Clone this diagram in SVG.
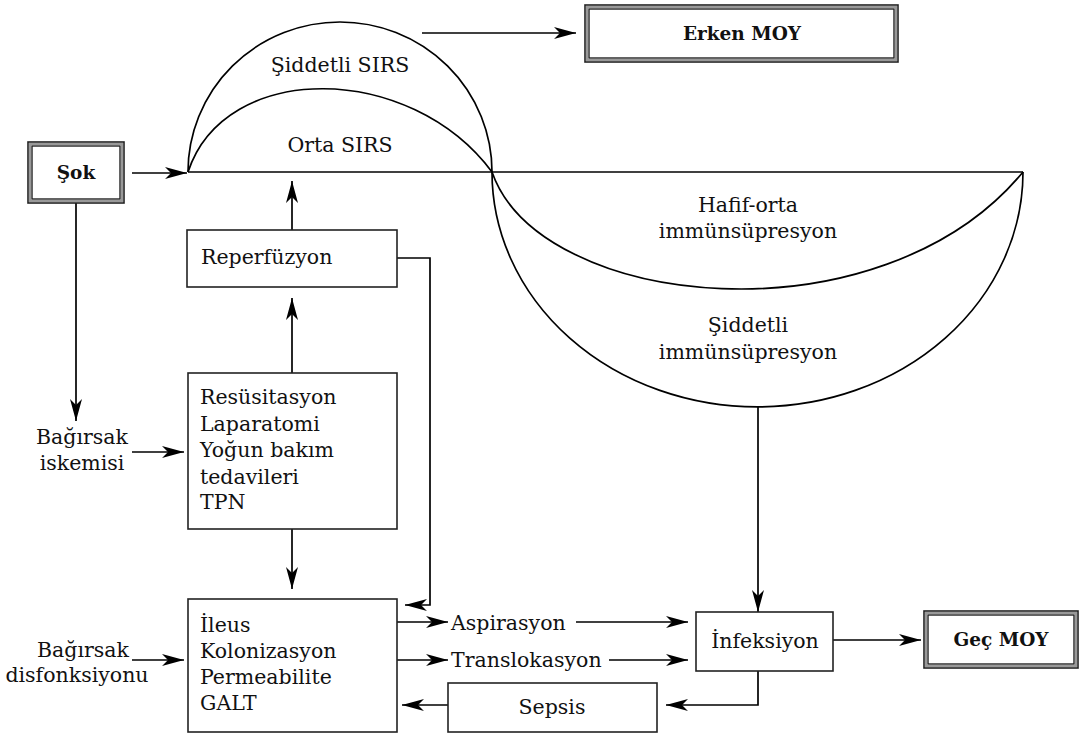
<svg xmlns="http://www.w3.org/2000/svg" width="1081" height="734" viewBox="0 0 1081 734">
<defs>
<marker id="ah" markerUnits="userSpaceOnUse" markerWidth="24" markerHeight="14" refX="22" refY="7" orient="auto">
<path d="M0,1 L22,7 L0,13 L6,7 Z" fill="#000"/>
</marker>
<style>
.t{font-family:"DejaVu Serif","Liberation Serif",serif;font-size:20.5px;fill:#111}
.b{font-family:"DejaVu Serif","Liberation Serif",serif;font-size:18.5px;font-weight:bold;fill:#111}
.box{fill:#fff;stroke:#222;stroke-width:1.6}
.o1{fill:#fff;stroke:#222;stroke-width:1.6}
.o2{fill:none;stroke:#999;stroke-width:2}
.o3{fill:none;stroke:#222;stroke-width:1.4}
.ln{fill:none;stroke:#000;stroke-width:1.7}
.ar{fill:none;stroke:#000;stroke-width:1.7;marker-end:url(#ah)}
</style>
</defs>
<rect width="1081" height="734" fill="#fff"/>

<g id="curves">
<line class="ln" x1="188" y1="172" x2="1023" y2="172"/>
<path class="ln" d="M188,172 A152,150 0 0 1 492,172 A265.5,235 0 0 0 1023,172"/>
<path class="ln" d="M188,172 C225,60 410,62 492,172 C540,310 880,345 1023,172"/>
<text class="t" x="340" y="72" text-anchor="middle">Şiddetli SIRS</text>
<text class="t" x="340" y="152" text-anchor="middle">Orta SIRS</text>
<text class="t" x="748" y="212" text-anchor="middle">Hafif-orta</text>
<text class="t" x="748" y="238" text-anchor="middle">immünsüpresyon</text>
<text class="t" x="748" y="332" text-anchor="middle">Şiddetli</text>
<text class="t" x="748" y="359" text-anchor="middle">immünsüpresyon</text>
</g>

<g id="connectors">
<line class="ar" x1="132" y1="173" x2="187" y2="173"/>
<line class="ar" x1="76" y1="203" x2="76" y2="421"/>
<line class="ar" x1="422" y1="33" x2="576" y2="33"/>
<line class="ar" x1="292" y1="230" x2="292" y2="181"/>
<line class="ar" x1="292" y1="373" x2="292" y2="298"/>
<line class="ar" x1="292" y1="529" x2="292" y2="589"/>
<line class="ar" x1="132" y1="452" x2="184" y2="452"/>
<line class="ar" x1="132" y1="660" x2="184" y2="660"/>
<polyline class="ar" points="397,258 430,258 430,605 405,605"/>
<line class="ar" x1="397" y1="622" x2="448" y2="622"/>
<line class="ar" x1="397" y1="660" x2="448" y2="660"/>
<line class="ar" x1="576" y1="622" x2="688" y2="622"/>
<line class="ar" x1="609" y1="660" x2="688" y2="660"/>
<line class="ar" x1="758" y1="407" x2="758" y2="612"/>
<line class="ar" x1="833" y1="640" x2="921" y2="640"/>
<polyline class="ar" points="758,671 758,705 666,705"/>
<line class="ar" x1="448" y1="705" x2="402" y2="705"/>
</g>

<g id="sok">
<rect class="o1" x="28" y="142" width="96" height="61"/>
<rect class="o2" x="30" y="144" width="92" height="57"/>
<rect class="o3" x="32" y="146" width="88" height="53"/>
<text class="b" x="76" y="179" text-anchor="middle">Şok</text>
</g>

<g id="erken-moy">
<rect class="o1" x="585" y="5" width="313" height="57"/>
<rect class="o2" x="587" y="7" width="309" height="53"/>
<rect class="o3" x="589" y="9" width="305" height="49"/>
<text class="b" x="742" y="40" text-anchor="middle">Erken MOY</text>
</g>

<g id="reperfuzyon">
<rect class="box" x="187" y="230" width="210" height="57"/>
<text class="t" x="201" y="264">Reperfüzyon</text>
</g>

<g id="bagirsak-iskemisi">
<text class="t" x="82" y="444" text-anchor="middle">Bağırsak</text>
<text class="t" x="82" y="470" text-anchor="middle">iskemisi</text>
</g>

<g id="resusitasyon">
<rect class="box" x="188" y="373" width="209" height="156"/>
<text class="t" x="200" y="404">Resüsitasyon</text>
<text class="t" x="200" y="431">Laparatomi</text>
<text class="t" x="200" y="457">Yoğun bakım</text>
<text class="t" x="200" y="484">tedavileri</text>
<text class="t" x="200" y="509">TPN</text>
</g>

<g id="bagirsak-disfonksiyonu">
<text class="t" x="83" y="657" text-anchor="middle">Bağırsak</text>
<text class="t" x="77" y="682" text-anchor="middle">disfonksiyonu</text>
</g>

<g id="ileus">
<rect class="box" x="188" y="599" width="209" height="133"/>
<text class="t" x="200" y="632">İleus</text>
<text class="t" x="200" y="658">Kolonizasyon</text>
<text class="t" x="200" y="684">Permeabilite</text>
<text class="t" x="200" y="710">GALT</text>
</g>

<g id="aspirasyon">
<text class="t" x="451" y="630">Aspirasyon</text>
</g>

<g id="translokasyon">
<text class="t" x="451" y="667">Translokasyon</text>
</g>

<g id="infeksiyon">
<rect class="box" x="696" y="612" width="137" height="59"/>
<text class="t" x="765" y="648" text-anchor="middle">İnfeksiyon</text>
</g>

<g id="sepsis">
<rect class="box" x="448" y="683" width="209" height="49"/>
<text class="t" x="552" y="714" text-anchor="middle">Sepsis</text>
</g>

<g id="gec-moy">
<rect class="o1" x="924" y="611" width="154" height="57"/>
<rect class="o2" x="926" y="613" width="150" height="53"/>
<rect class="o3" x="928" y="615" width="146" height="49"/>
<text class="b" x="1001" y="646" text-anchor="middle">Geç MOY</text>
</g>
</svg>
